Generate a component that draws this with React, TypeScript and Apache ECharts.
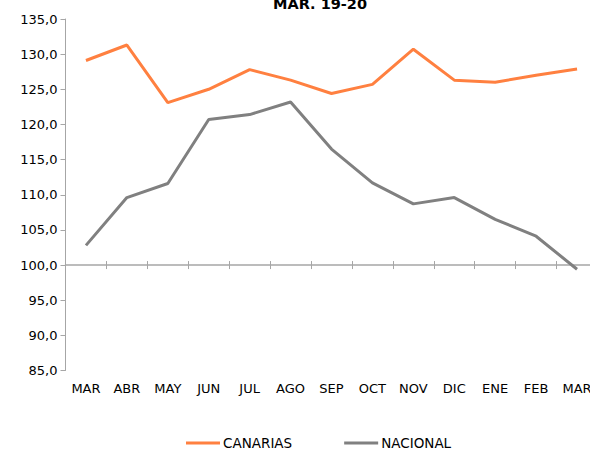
import React, { useEffect, useRef } from "react";
import * as echarts from "echarts";

const categories = ["MAR", "ABR", "MAY", "JUN", "JUL", "AGO", "SEP", "OCT", "NOV", "DIC", "ENE", "FEB", "MAR"];
const canarias = [129.1, 131.3, 123.1, 125.0, 127.8, 126.3, 124.4, 125.7, 130.7, 126.3, 126.0, 127.0, 127.9];
const nacional = [102.8, 109.6, 111.6, 120.7, 121.4, 123.2, 116.5, 111.7, 108.7, 109.6, 106.5, 104.1, 99.4];
const titleText = "MAR. 19-20";

const FONT = "DejaVu Sans, Verdana, sans-serif";
const AXIS_COLOR = "#a6a6a6";
const SHIFT = 12;

export default function App() {
  const ref = useRef<HTMLDivElement>(null);
  useEffect(() => {
    if (!ref.current) return;
    const chart = echarts.init(ref.current, null, { renderer: "svg" });
    const gridTop = 19 + SHIFT;
    const gridHeight = 351.5;
    const yMin = 85;
    const yMax = 135;
    const crossAt = 100;
    const offset = -((crossAt - yMin) / (yMax - yMin)) * gridHeight;
    chart.setOption({
      animation: false,
      textStyle: { fontFamily: FONT },
      title: {
        text: titleText,
        left: 320,
        top: SHIFT - 4,
        textAlign: "center",
        padding: 0,
        textStyle: { fontFamily: FONT, fontWeight: "bold", fontSize: 14.5, color: "#000" },
      },
      legend: {
        top: 436 + SHIFT,
        left: 186,
        itemWidth: 34,
        itemHeight: 3,
        itemGap: 52,
        icon: "rect",
        padding: 0,
        textStyle: { fontFamily: FONT, fontSize: 13.5, color: "#000", padding: [0, 0, 0, -2] },
        data: ["CANARIAS", "NACIONAL"],
      },
      grid: { left: 65.5, top: gridTop, width: 532, height: gridHeight },
      xAxis: [
        {
          type: "category",
          data: categories,
          boundaryGap: true,
          axisLine: { show: false },
          axisTick: { show: false },
          axisLabel: { color: "#000", fontSize: 13, fontFamily: FONT, margin: 11, interval: 0 },
        },
        {
          type: "category",
          data: categories,
          position: "bottom",
          offset: offset,
          boundaryGap: true,
          axisLine: { show: true, lineStyle: { color: AXIS_COLOR, width: 1.5 } },
          axisTick: { show: true, length: 4, inside: false, interval: 0, lineStyle: { color: AXIS_COLOR, width: 1 } },
          axisLabel: { show: false },
        },
        {
          type: "category",
          data: categories,
          position: "bottom",
          offset: offset,
          boundaryGap: true,
          axisLine: { show: false },
          axisTick: { show: true, length: 4, inside: true, interval: 0, lineStyle: { color: AXIS_COLOR, width: 1 } },
          axisLabel: { show: false },
        },
      ],
      yAxis: {
        type: "value",
        min: yMin,
        max: yMax,
        interval: 5,
        axisLine: { show: true, lineStyle: { color: AXIS_COLOR, width: 1 } },
        axisTick: { show: true, length: 5, lineStyle: { color: AXIS_COLOR } },
        splitLine: { show: false },
        axisLabel: {
          color: "#000",
          fontSize: 13,
          fontFamily: FONT,
          margin: 8,
          formatter: (v: number) => v.toFixed(1).replace(".", ","),
        },
      },
      series: [
        {
          name: "CANARIAS",
          type: "line",
          data: canarias,
          showSymbol: false,
          symbol: "none",
          itemStyle: { color: "#ff8040" },
          lineStyle: { color: "#ff8040", width: 3 },
        },
        {
          name: "NACIONAL",
          type: "line",
          data: nacional,
          showSymbol: false,
          symbol: "none",
          itemStyle: { color: "#808080" },
          lineStyle: { color: "#808080", width: 3 },
        },
      ],
    });
    return () => chart.dispose();
  }, []);
  return (
    <div style={{ position: "absolute", left: 0, top: 0, width: 590, height: 450, overflow: "hidden" }}>
      <div ref={ref} style={{ position: "relative", left: 0, top: -SHIFT, width: 610, height: 450 + SHIFT }} />
    </div>
  );
}
